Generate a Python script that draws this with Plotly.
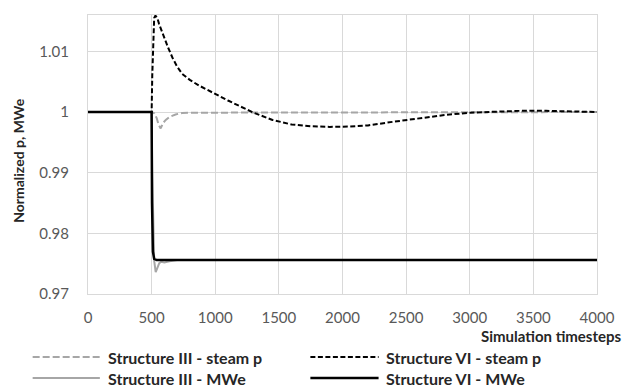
import plotly.graph_objects as go

# ---- data ----
t_iii_p = [0, 500, 520, 540, 555, 571, 590, 611, 640, 688, 740, 792, 1000, 1500, 2000, 2500, 3000, 3500, 4000]
v_iii_p = [1.0, 1.0, 0.9998, 0.9990, 0.9979, 0.9973, 0.9982, 0.9987, 0.9992, 0.9996, 0.99985, 0.9999, 0.9999, 0.9999, 0.9999, 0.9999, 1.0, 1.0, 1.0]

t_vi_p = [0, 500, 505, 512, 520, 530, 545, 559, 580, 600, 630, 663, 700, 740, 800, 870, 950, 1010, 1100, 1200, 1300, 1450, 1600, 1750, 1900, 2050, 2200, 2400, 2600, 2800, 3000, 3200, 3400, 3600, 3800, 4000]
v_vi_p = [1.0, 1.0, 1.006, 1.0125, 1.0155, 1.0159, 1.0155, 1.0145, 1.0133, 1.0122, 1.0106, 1.0090, 1.0075, 1.0063, 1.0053, 1.0044, 1.0035, 1.0029, 1.0019, 1.0009, 0.9999, 0.9987, 0.99795, 0.99765, 0.99755, 0.9976, 0.9978, 0.9984, 0.9990, 0.9995, 0.9999, 1.0001, 1.0002, 1.0002, 1.0001, 1.0]

t_iii_mw = [0, 500, 505, 512, 520, 532, 545, 560, 575, 600, 640, 700, 4000]
v_iii_mw = [1.0, 1.0, 0.99, 0.98, 0.9755, 0.9736, 0.9744, 0.9751, 0.9753, 0.9752, 0.9754, 0.9756, 0.9756]

t_vi_mw = [0, 500, 503, 510, 520, 540, 4000]
v_vi_mw = [1.0, 1.0, 0.985, 0.9770, 0.9758, 0.9756, 0.9756]

x_ticks = [0, 500, 1000, 1500, 2000, 2500, 3000, 3500, 4000]
y_ticks = [0.97, 0.98, 0.99, 1.0, 1.01]
y_tick_text = ["0.97", "0.98", "0.99", "1", "1.01"]

series_names = ["Structure III - steam p", "Structure VI - steam p",
                "Structure III - MWe", "Structure VI - MWe"]

GRAY = "#a6a6a6"
BLACK = "#000000"
FONT = "Lato, Carlito, Calibri, sans-serif"

fig = go.Figure()
fig.add_trace(go.Scatter(x=t_iii_mw, y=v_iii_mw, mode="lines", name=series_names[2],
                         line=dict(color=GRAY, width=2)))
fig.add_trace(go.Scatter(x=t_iii_p, y=v_iii_p, mode="lines", name=series_names[0],
                         line=dict(color=GRAY, width=2, dash="7px,3px")))
fig.add_trace(go.Scatter(x=t_vi_p, y=v_vi_p, mode="lines", name=series_names[1],
                         line=dict(color=BLACK, width=2, dash="5px,2.5px")))
fig.add_trace(go.Scatter(x=t_vi_mw, y=v_vi_mw, mode="lines", name=series_names[3],
                         line=dict(color=BLACK, width=2.5)))

L, R, T, B = 88, 24, 15, 93
W, H = 627, 387
pw = W - L - R
ph = H - T - B

def px(xp):
    return (xp - L) / pw

def py(yp):
    return (H - B - yp) / ph

fig.update_layout(
    width=W, height=H,
    margin=dict(l=L, r=R, t=T, b=B),
    paper_bgcolor="white", plot_bgcolor="white",
    showlegend=False,
    font=dict(family=FONT, color="#595959", size=13),
)
fig.update_xaxes(range=[0, 4000], tickvals=x_ticks, showgrid=True, gridcolor="#d9d9d9",
                 gridwidth=1, showline=True, linecolor="#d9d9d9", linewidth=1, mirror=True,
                 zeroline=False, ticks="", ticklabelstandoff=10,
                 tickfont=dict(size=15, color="#595959"))
fig.update_yaxes(range=[0.97, 1.016], tickvals=y_ticks, ticktext=y_tick_text, showgrid=True,
                 gridcolor="#d9d9d9", gridwidth=1, showline=True, linecolor="#d9d9d9",
                 linewidth=1, mirror=True, zeroline=False, ticks="", ticklabelstandoff=15,
                 tickfont=dict(size=15, color="#595959"))

# axis titles
fig.add_annotation(text="<b>Simulation timesteps</b>", xref="paper", yref="paper",
                   x=px(630), y=py(336), xanchor="right", yanchor="middle", showarrow=False,
                   font=dict(size=15, color="#262626", family=FONT))
fig.add_annotation(text="<b>Normalized p, MWe</b>", xref="paper", yref="paper",
                   x=px(17), y=py(160), xanchor="center", yanchor="middle", textangle=-90,
                   showarrow=False, font=dict(size=14, color="#262626", family=FONT))

# legend (manual, two columns)
legend_items = [
    (series_names[0], GRAY, "7px,3px", 2, 32, 100, 106, 357),
    (series_names[1], BLACK, "5px,2.5px", 2, 313, 382, 387, 357),
    (series_names[2], GRAY, "solid", 2, 32, 100, 106, 378),
    (series_names[3], BLACK, "solid", 2.5, 313, 382, 387, 378),
]
for name, col, dash, lw, x0, x1, xt, yy in legend_items:
    fig.add_shape(type="line", xref="paper", yref="paper", x0=px(x0), x1=px(x1),
                  y0=py(yy), y1=py(yy), line=dict(color=col, width=lw, dash=dash))
    fig.add_annotation(text="<b>" + name + "</b>", xref="paper", yref="paper",
                       x=px(xt), y=py(yy), xanchor="left", yanchor="middle", showarrow=False,
                       font=dict(size=16, color="#262626", family=FONT))

fig.write_html("out.html")
